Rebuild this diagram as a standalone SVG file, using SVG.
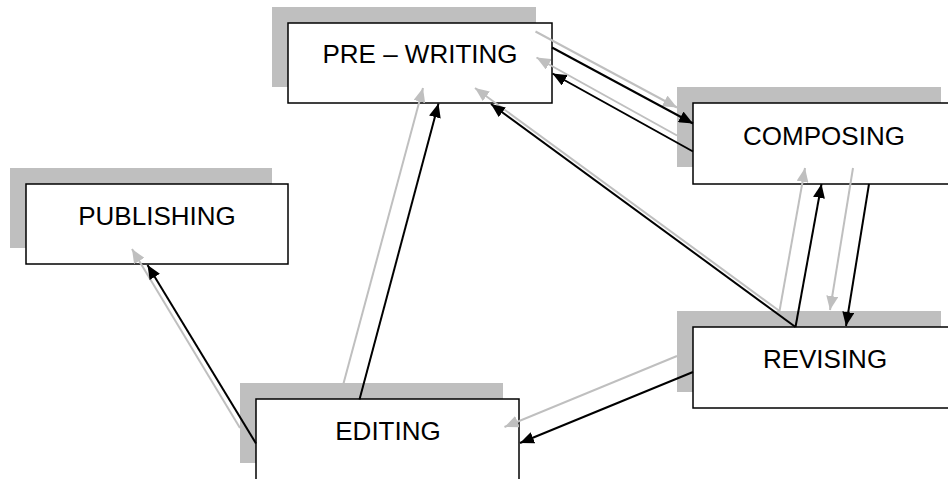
<svg xmlns="http://www.w3.org/2000/svg" width="948" height="479" viewBox="0 0 948 479">
<style>
.shadow{fill:#bfbfbf;stroke:none}
.box{fill:#ffffff;stroke:#000000;stroke-width:1.5}
.label{font-family:"Liberation Sans",Arial,sans-serif;font-size:26px;fill:#000000;text-anchor:middle}
.conn{stroke:#000000;stroke-width:2;fill:none;marker-end:url(#ab)}
.connShadow{stroke:#bfbfbf;stroke-width:2;fill:none;marker-end:url(#ag)}
</style>
<defs>
<marker id="ab" markerUnits="userSpaceOnUse" markerWidth="14" markerHeight="12" refX="14" refY="6" orient="auto">
<path d="M0,0 L14,6 L0,12 z" fill="#000000"/>
</marker>
<marker id="ag" markerUnits="userSpaceOnUse" markerWidth="14" markerHeight="12" refX="14" refY="6" orient="auto">
<path d="M0,0 L14,6 L0,12 z" fill="#bfbfbf"/>
</marker>
</defs>
<rect width="948" height="479" fill="#ffffff"/>
<g id="node-prewriting">
<rect class="shadow" x="272" y="7" width="264" height="80"/>
<rect class="box" x="288" y="23" width="264" height="80"/>
<text class="label" x="420" y="63">PRE – WRITING</text>
</g>
<g id="node-composing">
<rect class="shadow" x="677" y="87" width="264" height="80"/>
<rect class="box" x="693" y="103" width="264" height="81"/>
<text class="label" x="824" y="145">COMPOSING</text>
</g>
<g id="node-publishing">
<rect class="shadow" x="10" y="168" width="262" height="80"/>
<rect class="box" x="26" y="184" width="262" height="80"/>
<text class="label" x="157" y="225">PUBLISHING</text>
</g>
<g id="node-revising">
<rect class="shadow" x="677" y="311" width="264" height="81"/>
<rect class="box" x="693" y="327" width="264" height="81"/>
<text class="label" x="825" y="368">REVISING</text>
</g>
<g id="node-editing">
<rect class="shadow" x="240" y="383" width="263" height="80"/>
<rect class="box" x="256" y="399" width="263" height="90"/>
<text class="label" x="388" y="440">EDITING</text>
</g>
<g id="connectors">
<g id="connector-shadows">
<line class="connShadow" x1="535.5" y1="31.5" x2="677" y2="107.5"/>
<line class="connShadow" x1="677" y1="135.5" x2="536.5" y2="57.5"/>
<line class="connShadow" x1="779.5" y1="311" x2="475" y2="88"/>
<line class="connShadow" x1="779.5" y1="311" x2="805" y2="168"/>
<line class="connShadow" x1="853" y1="168" x2="830" y2="310"/>
<line class="connShadow" x1="677" y1="356" x2="504.5" y2="427"/>
<line class="connShadow" x1="343.5" y1="383.5" x2="423" y2="88"/>
<line class="connShadow" x1="240" y1="428" x2="132" y2="249"/>
</g>
<g id="connector-lines">
<line class="conn" x1="552" y1="47.5" x2="693" y2="123.5"/>
<line class="conn" x1="693" y1="151.5" x2="552.5" y2="73.5"/>
<line class="conn" x1="795.5" y1="327" x2="491" y2="104"/>
<line class="conn" x1="795.5" y1="327" x2="821.5" y2="184"/>
<line class="conn" x1="869" y1="184" x2="846" y2="326"/>
<line class="conn" x1="693" y1="372" x2="520" y2="443"/>
<line class="conn" x1="359.5" y1="399.5" x2="438.5" y2="103.5"/>
<line class="conn" x1="256" y1="443.5" x2="147.5" y2="265"/>
</g>
</g>
</svg>
